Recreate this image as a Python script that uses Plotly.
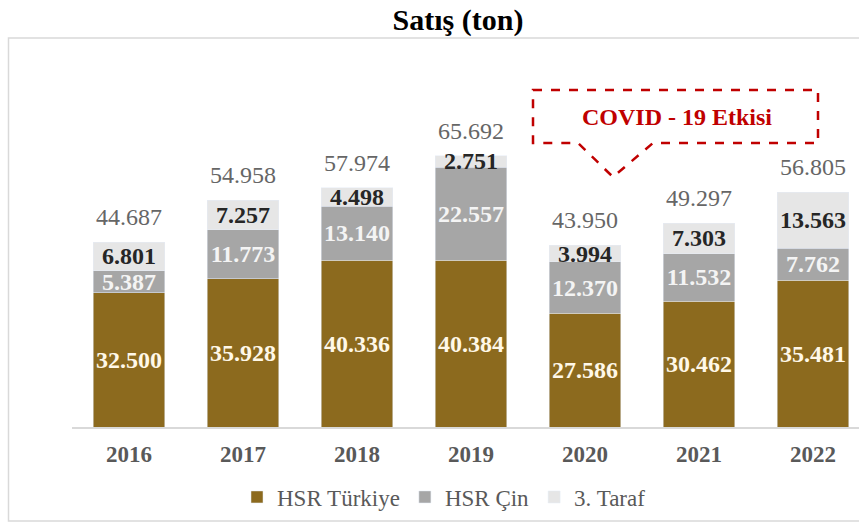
import plotly.graph_objects as go

years = ["2016", "2017", "2018", "2019", "2020", "2021", "2022"]
hsr_turkiye = [32500, 35928, 40336, 40384, 27586, 30462, 35481]
hsr_cin = [5387, 11773, 13140, 22557, 12370, 11532, 7762]
ucuncu_taraf = [6801, 7257, 4498, 2751, 3994, 7303, 13563]
toplam = [44687, 54958, 57974, 65692, 43950, 49297, 56805]

# body margin is removed by post_script, so figure origin = window origin
OFF = 0
W, H = 859 - OFF, 526 - OFF
# plot area in window coords: x 72..859, y 40..427
L, R, T = 72 - OFF, 0, 40 - OFF
B = H - (427 - OFF)
PW, PH = W - L - R, H - T - B

def px(x):  # window x -> paper
    return (x - OFF - L) / PW

def py(y):  # window y -> paper
    return (H - B - (y - OFF)) / PH

SERIF = "Liberation Serif"

fig = go.Figure()
fig.add_bar(
    x=years, y=hsr_turkiye, name="HSR Türkiye", marker_color="#8C6A1E",
    texttemplate="%{y:,}", textposition="inside", insidetextanchor="middle",
    constraintext="none", textangle=0,
    textfont=dict(family=SERIF, size=24, color="#FFF8E8", weight="bold"),
)
fig.add_bar(
    x=years, y=hsr_cin, name="HSR Çin", marker_color="#A6A6A6",
    texttemplate="%{y:,}", textposition="inside", insidetextanchor="middle",
    constraintext="none", textangle=0,
    textfont=dict(family=SERIF, size=24, color="#F4F4F4", weight="bold"),
)
fig.add_bar(
    x=years, y=ucuncu_taraf, name="3. Taraf", marker_color="#E6E6E6",
    texttemplate="%{y:,}", textposition="inside", insidetextanchor="middle",
    constraintext="none", textangle=0,
    textfont=dict(family=SERIF, size=24, color="#262626", weight="bold"),
)

for i, tot in enumerate(toplam):
    fig.add_annotation(
        x=i, y=tot, xref="x", yref="y", text=f"{tot:,}".replace(",", "."),
        showarrow=False, yshift=25, xanchor="center", yanchor="middle",
        font=dict(family=SERIF, size=24, color="#666666"),
    )

# Outer frame
fig.add_shape(type="rect", xref="paper", yref="paper",
              x0=px(8.5), x1=px(875), y0=py(521), y1=py(38),
              line=dict(color="#D9D9D9", width=1.5), layer="below")

# COVID callout
x0, x1, ytop, ybot = 533, 818, 90, 143
pa, apex, pb, yapex = 578, 613, 653, 177
path = (f"M {px(x0)} {py(ytop)} L {px(x1)} {py(ytop)} L {px(x1)} {py(ybot)} "
        f"L {px(pb)} {py(ybot)} L {px(apex)} {py(yapex)} L {px(pa)} {py(ybot)} "
        f"L {px(x0)} {py(ybot)} Z")
fig.add_shape(type="path", xref="paper", yref="paper", path=path,
              line=dict(color="#C00000", width=2.5, dash="dash"),
              fillcolor="rgba(255,255,255,0)")
fig.add_annotation(xref="paper", yref="paper", x=px(677), y=py(117),
                   xanchor="center", yanchor="middle",
                   text="<b>COVID - 19 Etkisi</b>", showarrow=False,
                   font=dict(family=SERIF, size=24, color="#C00000"))

fig.update_layout(
    width=W, height=H,
    margin=dict(l=L, r=R, t=T, b=B, autoexpand=False),
    barmode="stack", bargap=0.37,
    separators=",.",
    plot_bgcolor="white", paper_bgcolor="white",
    title=dict(text="<b>Satış (ton)</b>", x=(458 - OFF) / W, xanchor="center",
               xref="container", yref="container",
               y=1 - (19 - OFF) / H, yanchor="middle",
               font=dict(family=SERIF, size=30, color="#000000")),
    legend=dict(orientation="h", x=px(444), xanchor="center",
                y=py(497), yanchor="middle",
                font=dict(family=SERIF, size=23, color="#595959"),
                itemwidth=30, traceorder="normal"),
    xaxis=dict(range=[-0.5, -0.5 + PW / 114.0], showgrid=False,
               showline=True, linecolor="#D9D9D9", linewidth=1.5,
               ticks="outside", ticklen=6, tickcolor="rgba(0,0,0,0)",
               tickfont=dict(family=SERIF, size=23, color="#595959", weight="bold")),
    yaxis=dict(range=[0, PH / 4.13 * 1000], visible=False, showgrid=False),
    showlegend=True,
)

fig.write_html(
    "out.html",
    config={"displayModeBar": False},
    post_script="document.body.style.margin='0px'; document.body.style.overflow='hidden';",
)
